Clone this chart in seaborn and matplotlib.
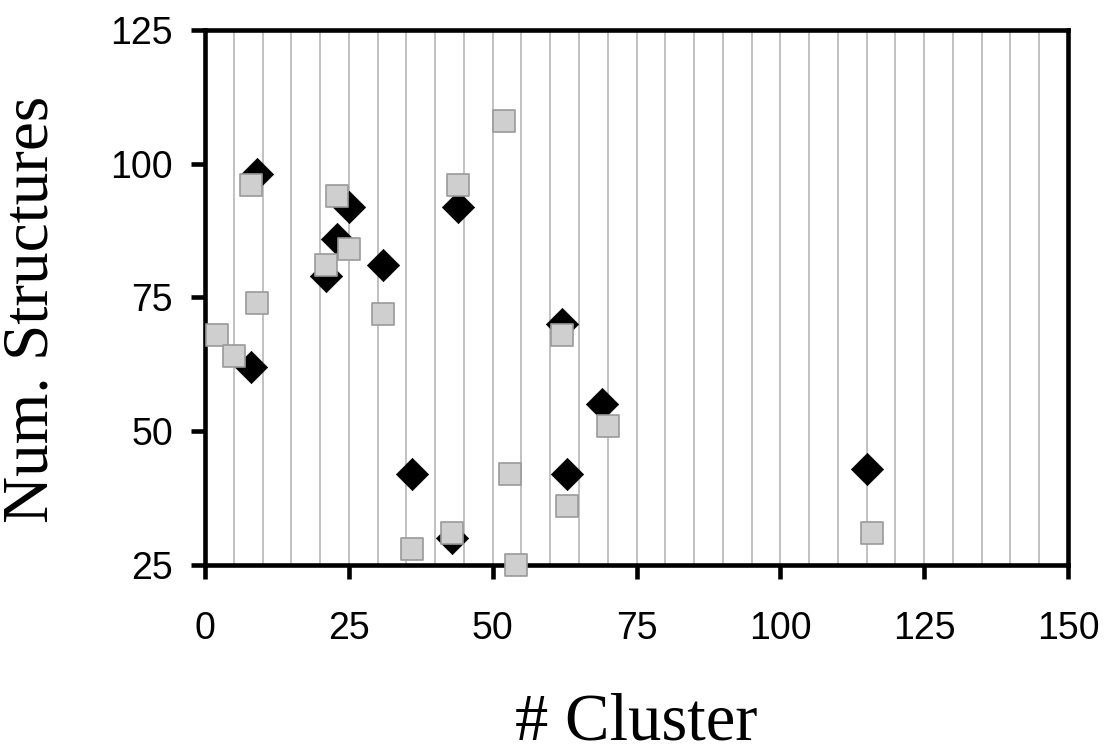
import matplotlib
matplotlib.use("Agg")
import matplotlib.pyplot as plt
import seaborn as sns
import pandas as pd
import numpy as np

# Cluster index vs. number of structures, two series
cluster_a = [9, 8, 21, 23, 25, 31, 36, 43, 44, 62, 63, 69, 115]
structs_a = [98, 62, 79, 86, 92, 81, 42, 30, 92, 70, 42, 55, 43]

cluster_b = [2, 5, 8, 9, 21, 23, 25, 31, 36, 43, 44, 52, 53, 54, 62, 63, 70, 116]
structs_b = [68, 64, 96, 74, 81, 94, 84, 72, 28, 31, 96, 108, 42, 25, 68, 36, 51, 31]

x_ticks = [0, 25, 50, 75, 100, 125, 150]
y_ticks = [25, 50, 75, 100, 125]

df_a = pd.DataFrame({"cluster": cluster_a, "structures": structs_a})
df_b = pd.DataFrame({"cluster": cluster_b, "structures": structs_b})

sns.set_theme(style="white")
plt.rcParams["font.family"] = ["Liberation Sans", "DejaVu Sans"]
plt.rcParams["font.serif"] = ["Liberation Serif", "DejaVu Serif"]

fig = plt.figure(figsize=(11.07, 7.54), dpi=100)
ax = fig.add_axes([0.1852, 0.2507, 0.9648 - 0.1852, 0.9602 - 0.2507])

sns.scatterplot(data=df_a, x="cluster", y="structures", ax=ax, marker="D",
                s=270, color="black", edgecolor="black", linewidth=0.5,
                zorder=4, clip_on=False, legend=False)
sns.scatterplot(data=df_b, x="cluster", y="structures", ax=ax, marker="s",
                s=250, color="#cfcfcf", edgecolor="#9a9a9a", linewidth=1.2,
                zorder=5, clip_on=False, legend=False)

ax.set_xlim(0, 150)
ax.set_ylim(25, 125)
ax.set_xticks(x_ticks)
ax.set_yticks(y_ticks)
ax.set_xticks(np.arange(0, 151, 5), minor=True)
ax.xaxis.grid(True, which="minor", color="#b0b0b0", linewidth=1.1, zorder=0)
ax.xaxis.grid(True, which="major", color="#b0b0b0", linewidth=1.1, zorder=0)
ax.yaxis.grid(False)
ax.set_axisbelow(True)

for side in ["left", "right", "top", "bottom"]:
    ax.spines[side].set_visible(True)
    ax.spines[side].set_color("black")
    ax.spines[side].set_linewidth(3.3)
    ax.spines[side].set_zorder(3)

ax.tick_params(axis="both", which="major", direction="out", length=10,
               width=3.3, color="black", labelsize=27, labelcolor="black",
               bottom=True, left=True, top=False, right=False)
ax.tick_params(axis="x", which="major", pad=23)
ax.tick_params(axis="y", which="major", pad=13)
ax.tick_params(axis="x", which="minor", length=0)

ax.set_xlabel("# Cluster", fontsize=48, fontfamily="serif", color="black",
              va="center")
ax.set_ylabel("Num. Structures", fontsize=47, fontfamily="serif", color="black",
              va="center")
ax.xaxis.set_label_coords(0.5, (565 - 723) / 535)
ax.yaxis.set_label_coords((32 - 205) / 863, (565 - 309) / 535)

fig.savefig("out.png", dpi=100, facecolor="white")
